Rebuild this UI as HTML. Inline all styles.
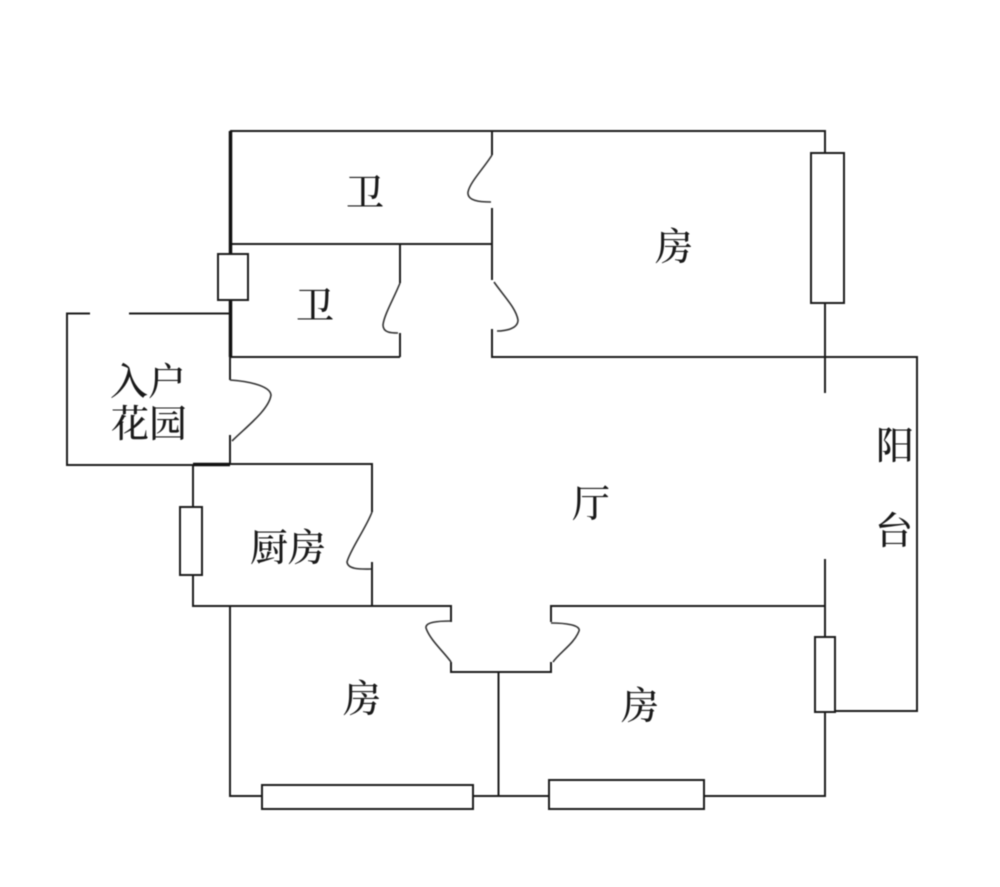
<!DOCTYPE html>
<html><head><meta charset="utf-8"><style>
html,body{margin:0;padding:0;background:#fff}
svg{display:block;filter:blur(0.45px)}
text{font-family:"Liberation Serif","Noto Serif CJK SC",serif;font-size:38px;font-weight:500;fill:#1a1a1a;text-anchor:middle}
.l{fill:none;stroke:#1c1c1c;stroke-width:2}
.t{fill:none;stroke:#111;stroke-width:3.5}
.r{fill:#fff;stroke:#1c1c1c;stroke-width:2}
.d{fill:none;stroke:#333;stroke-width:1.6}
</style></head><body>
<svg width="1000" height="887" viewBox="0 0 1000 887" xmlns="http://www.w3.org/2000/svg">
<rect width="1000" height="887" fill="#fff"/>
<path class="l" d="M230 131H825V153M825 303V393M492 131V155M492 208V280M230 244H492M400 244V283M400 333V357M230 357H400M492 329V357H917V711H835M825 559V637M825 712V796H704M549 796H473M262 796H230V606"/>
<path class="t" d="M230.500 131V357"/>
<path class="l" d="M230 357V380M230 435V465M230 313.500H129M90 313.500H67V465H193"/>
<path class="l" d="M193 464H372V512M372 562V606M193 465V507M193 575V606H451V622M551 622V606H825"/>
<path class="t" d="M193 464.500H230"/>
<path class="l" d="M451 662V672H551V662M498.500 672V796"/>
<rect class="r" x="811" y="153" width="33" height="150"/>
<rect class="r" x="218" y="254" width="30" height="46"/>
<rect class="r" x="180" y="507" width="22" height="68"/>
<rect class="r" x="815" y="637" width="20" height="75"/>
<rect class="r" x="262" y="785" width="211" height="24"/>
<rect class="r" x="549" y="780" width="155" height="29"/>
<path class="d" d="M492 155C484 168 470 182 468 192C467 201 480 202 491 202"/>
<path class="d" d="M400 283C394 298 384 315 383 325C383 333 392 333 398 333"/>
<path class="d" d="M494 282C503 295 516 308 518 320C518 329 505 331 497 331"/>
<path class="d" d="M230 380C245 381 270 385 271 395C269 410 245 428 232 441"/>
<path class="d" d="M372 512C366 528 350 550 347 562C348 570 362 569 371 569"/>
<path class="d" d="M451 621C438 621 425 622 426 628C430 640 444 652 451 662"/>
<path class="d" d="M551 623C565 623 581 625 579 631C574 644 560 652 553 662"/>
<text x="365" y="206">卫</text>
<text x="315" y="319">卫</text>
<text x="674" y="260">房</text>
<text x="148" y="395">入户</text>
<text x="149" y="437">花园</text>
<text x="591" y="517">厅</text>
<text x="895" y="459">阳</text>
<text x="894" y="544">台</text>
<text x="288" y="561">厨房</text>
<text x="362" y="712">房</text>
<text x="640" y="719">房</text>
</svg>
</body></html>
